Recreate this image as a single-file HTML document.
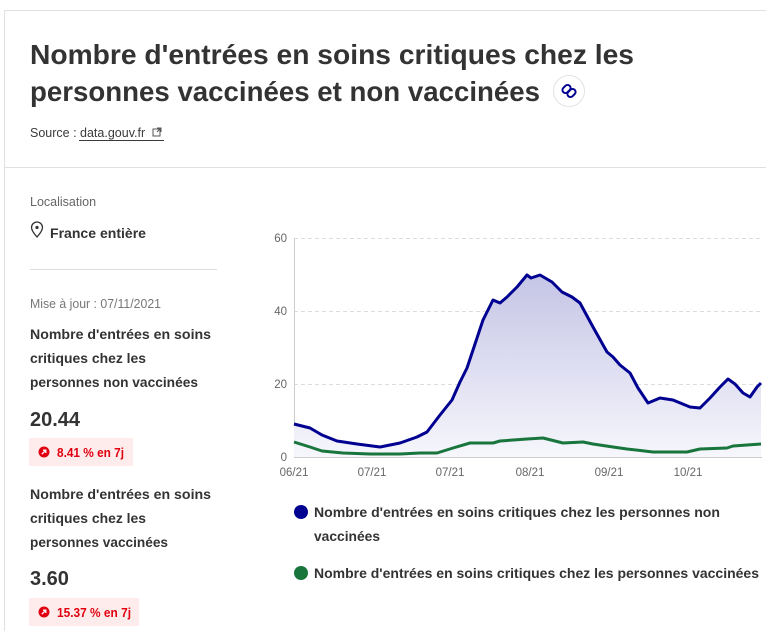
<!DOCTYPE html>
<html><head><meta charset="utf-8"><style>
html,body{margin:0;padding:0;background:#fff;}
svg{display:block;font-family:"Liberation Sans",sans-serif;}
</style></head><body>
<svg width="766" height="631" viewBox="0 0 766 631" xmlns="http://www.w3.org/2000/svg">
<defs>
<linearGradient id="g" x1="0" y1="0" x2="0" y2="1">
<stop offset="0" stop-color="#c5c5e6"/>
<stop offset="1" stop-color="#f6f6fc"/>
</linearGradient>
</defs>
<line x1="4.5" y1="10" x2="4.5" y2="631" stroke="#e0e0e0"/>
<line x1="4" y1="10.5" x2="766" y2="10.5" stroke="#e0e0e0"/>
<line x1="4" y1="167.5" x2="766" y2="167.5" stroke="#e0e0e0"/>
<text x="30" y="64" font-size="28" font-weight="bold" fill="#333" textLength="604" lengthAdjust="spacingAndGlyphs">Nombre d'entrées en soins critiques chez les</text>
<text x="30" y="101" font-size="28" font-weight="bold" fill="#333" textLength="510" lengthAdjust="spacingAndGlyphs">personnes vaccinées et non vaccinées</text>
<circle cx="569" cy="91" r="15.5" fill="#fff" stroke="#e3e3e3"/>
<g stroke="#000091" stroke-width="2" fill="none">
<rect x="562" y="86" width="9" height="6" rx="3" transform="rotate(-45 566.5 89)"/>
<rect x="567" y="90" width="9" height="6" rx="3" transform="rotate(-45 571.5 93)"/>
</g>
<text x="30" y="137" font-size="12.5" fill="#3a3a3a">Source : <tspan>data.gouv.fr</tspan></text>
<line x1="79" y1="140.5" x2="164" y2="140.5" stroke="#3a3a3a"/>
<g stroke="#555" fill="none" stroke-width="1"><rect x="153" y="129" width="7" height="7"/><path d="M157 128h4v4M161 128l-4 4"/></g>
<text x="30" y="206" font-size="12.5" fill="#666">Localisation</text>
<path d="M37 237c-4-4.5-5.5-7-5.5-9.5a5.5 5.5 0 0 1 11 0c0 2.5-1.5 5-5.5 9.5z" fill="none" stroke="#333" stroke-width="1.3"/>
<circle cx="37" cy="227.5" r="1.6" fill="#333"/>
<text x="50" y="238" font-size="14" font-weight="bold" fill="#333" textLength="96" lengthAdjust="spacingAndGlyphs">France entière</text>
<line x1="30" y1="269.5" x2="217" y2="269.5" stroke="#ddd"/>
<text x="30" y="308" font-size="12.5" fill="#777" textLength="131" lengthAdjust="spacingAndGlyphs">Mise à jour : 07/11/2021</text>
<g font-size="14" fill="#333" font-weight="bold">
<text x="30" y="339" textLength="181" lengthAdjust="spacingAndGlyphs">Nombre d'entrées en soins</text>
<text x="30" y="363" textLength="116" lengthAdjust="spacingAndGlyphs">critiques chez les</text>
<text x="30" y="387" textLength="168" lengthAdjust="spacingAndGlyphs">personnes non vaccinées</text>
<text x="30" y="499" textLength="181" lengthAdjust="spacingAndGlyphs">Nombre d'entrées en soins</text>
<text x="30" y="523" textLength="116" lengthAdjust="spacingAndGlyphs">critiques chez les</text>
<text x="30" y="547" textLength="138" lengthAdjust="spacingAndGlyphs">personnes vaccinées</text>
</g>
<text x="30" y="426" font-size="20" font-weight="bold" fill="#333">20.44</text>
<text x="30" y="585" font-size="20" font-weight="bold" fill="#333">3.60</text>
<rect x="29" y="438" width="104" height="28" fill="#feecec"/>
<circle cx="44" cy="452" r="5.5" fill="#e1000f"/><path d="M41.8 454.2l4-4M43 450.2h2.8v2.8" stroke="#fff" stroke-width="1.3" fill="none"/>
<text x="57" y="457" font-size="12.5" font-weight="bold" fill="#e1000f" textLength="67" lengthAdjust="spacingAndGlyphs">8.41 % en 7j</text>
<rect x="29" y="598" width="110" height="28" fill="#feecec"/>
<circle cx="44" cy="612" r="5.5" fill="#e1000f"/><path d="M41.8 614.2l4-4M43 610.2h2.8v2.8" stroke="#fff" stroke-width="1.3" fill="none"/>
<text x="57" y="617" font-size="12.5" font-weight="bold" fill="#e1000f" textLength="74" lengthAdjust="spacingAndGlyphs">15.37 % en 7j</text>
<g stroke="#ddd" stroke-dasharray="4,3">
<line x1="294" y1="238.5" x2="762" y2="238.5"/>
<line x1="294" y1="311.5" x2="762" y2="311.5"/>
<line x1="294" y1="384.5" x2="762" y2="384.5"/>
</g>
<line x1="294.5" y1="238" x2="294.5" y2="457" stroke="#ccc"/>
<line x1="294" y1="457.5" x2="762" y2="457.5" stroke="#ccc"/>
<g font-size="11.5" fill="#666" text-anchor="end">
<text x="287" y="242">60</text><text x="287" y="315">40</text><text x="287" y="388">20</text><text x="287" y="461">0</text>
</g>
<g font-size="11.5" fill="#666" text-anchor="middle">
<text x="294" y="476">06/21</text><text x="372" y="476">07/21</text><text x="450" y="476">07/21</text><text x="530" y="476">08/21</text><text x="609" y="476">09/21</text><text x="688" y="476">10/21</text>
</g>
<path d="M294,424 L310,428 322,435 337,441 357,444 380,447 400,443 417,437 427,432 440,415 452,400 460,382 467,368 477,338 483,320 493,300 500,303 507,297 517,287 527,275 531,278 540,275 552,282 562,292 572,297 580,303 593,327 607,352 613,357 620,365 630,373 638,388 648,403 660,398 673,400 690,407 700,408 710,398 720,387 728,379 735,384 743,393 750,397 757,387 761,383 L761,457 L294,457 Z" fill="url(#g)"/>
<path d="M294,424 L310,428 322,435 337,441 357,444 380,447 400,443 417,437 427,432 440,415 452,400 460,382 467,368 477,338 483,320 493,300 500,303 507,297 517,287 527,275 531,278 540,275 552,282 562,292 572,297 580,303 593,327 607,352 613,357 620,365 630,373 638,388 648,403 660,398 673,400 690,407 700,408 710,398 720,387 728,379 735,384 743,393 750,397 757,387 761,383" fill="none" stroke="#000091" stroke-width="3" stroke-linejoin="round"/>
<path d="M294,442 L310,447 322,451 343,453 370,454 400,454 420,453 437,453 453,448 470,443 493,443 500,441 527,439 543,438 563,443 583,442 593,444 613,447 627,449 653,452 687,452 700,449 727,448 733,446 761,444" fill="none" stroke="#18753c" stroke-width="3" stroke-linejoin="round"/>
<circle cx="301" cy="512" r="7" fill="#000091"/>
<text x="314" y="517" font-size="14" fill="#333" font-weight="bold" textLength="406" lengthAdjust="spacingAndGlyphs">Nombre d'entrées en soins critiques chez les personnes non</text>
<text x="314" y="541" font-size="14" fill="#333" font-weight="bold" textLength="66" lengthAdjust="spacingAndGlyphs">vaccinées</text>
<circle cx="301" cy="573" r="7" fill="#18753c"/>
<text x="314" y="578" font-size="14" fill="#333" font-weight="bold" textLength="445" lengthAdjust="spacingAndGlyphs">Nombre d'entrées en soins critiques chez les personnes vaccinées</text>
</svg>
</body></html>
